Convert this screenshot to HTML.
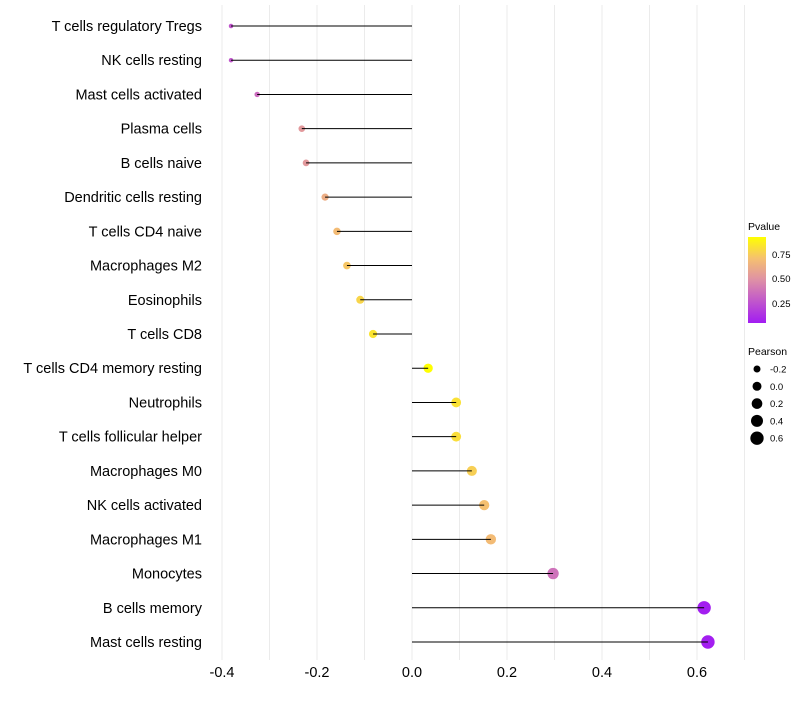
<!DOCTYPE html>
<html><head><meta charset="utf-8"><style>
body{margin:0;background:#fff;font-family:"Liberation Sans",sans-serif}
</style></head><body>
<svg id="c" width="800" height="700" xmlns="http://www.w3.org/2000/svg">
<defs><linearGradient id="g" x1="0" y1="1" x2="0" y2="0">
<stop offset="0" stop-color="#a21cf2"/><stop offset="0.5" stop-color="#de90a6"/><stop offset="0.75" stop-color="#f5c070"/><stop offset="1" stop-color="#ffff00"/></linearGradient></defs>
<g id="grid"></g><g id="dots"></g><g id="marks"></g><g id="labels"></g>
<g font-size="9.5" fill="#000">
<text x="748" y="230" font-size="10.5">Pvalue</text>
<rect x="748" y="237" width="18" height="86" fill="url(#g)"/>
<text x="772" y="258">0.75</text><text x="772" y="282">0.50</text><text x="772" y="307">0.25</text>
<text x="748" y="355" font-size="10.5">Pearson</text>
<g id="sizeleg"></g>
</g>
</svg>
<script>
const categories=["T cells regulatory  Tregs","NK cells resting","Mast cells activated","Plasma cells","B cells naive","Dendritic cells resting","T cells CD4 naive","Macrophages M2","Eosinophils","T cells CD8","T cells CD4 memory resting","Neutrophils","T cells follicular helper","Macrophages M0","NK cells activated","Macrophages M1","Monocytes","B cells memory","Mast cells resting"];
const pearson=[-0.381,-0.381,-0.326,-0.232,-0.223,-0.183,-0.158,-0.137,-0.109,-0.082,0.034,0.093,0.093,0.126,0.152,0.166,0.297,0.615,0.623];
const pvalue=[0.3,0.3,0.38,0.55,0.55,0.64,0.7,0.74,0.79,0.84,0.95,0.83,0.82,0.77,0.72,0.7,0.4,0.1,0.1];
const xTicks=[-0.4,-0.2,0.0,0.2,0.4,0.6];
const xTickLabels=["-0.4","-0.2","0.0","0.2","0.4","0.6"];
const sizeLegend=[-0.2,0.0,0.2,0.4,0.6];
const NS="http://www.w3.org/2000/svg";
const x=v=>412+v*475;
const y=i=>26+i*(616/18);
const r=v=>Math.sqrt(Math.max(3,12.25+(v+0.2)*40));
function col(p){const s=[[0,[162,28,242]],[0.5,[222,144,166]],[0.75,[245,192,112]],[1,[255,255,0]]];
 const t=(p-0.09)/(0.93-0.09);const tt=Math.max(0,Math.min(1,t));
 for(let k=1;k<s.length;k++){if(tt<=s[k][0]){const a=s[k-1],b=s[k],f=(tt-a[0])/(b[0]-a[0]);return "rgb("+a[1].map((c,j)=>Math.round(c+(b[1][j]-c)*f)).join(",")+")";}}return "rgb(255,255,0)";}
function el(t,a,p){const e=document.createElementNS(NS,t);for(const k in a)e.setAttribute(k,a[k]);p.appendChild(e);return e;}
const grid=document.getElementById('grid'),marks=document.getElementById('marks'),dots=document.getElementById('dots'),labels=document.getElementById('labels');
for(let v=-0.4;v<=0.751;v+=0.1){const l=el('line',{x1:x(v),x2:x(v),y1:5,y2:660,stroke:'#ebebeb','stroke-width':1},grid);

}
xTicks.forEach((v,i)=>{const t=el('text',{x:x(v),y:677,'text-anchor':'middle','font-size':14.5,fill:'#000'},labels);t.textContent=xTickLabels[i];

});
categories.forEach((c,i)=>{
const t=el('text',{x:202,y:y(i)+5,'text-anchor':'end','font-size':14.5,fill:'#000'},labels);t.textContent=c;


const l=el('line',{x1:x(0),x2:x(pearson[i]),y1:y(i),y2:y(i),stroke:'#000','stroke-width':1},marks);


const d=el('circle',{cx:x(pearson[i]),cy:y(i),r:r(pearson[i]),fill:col(pvalue[i])},dots);


});
const sl=document.getElementById('sizeleg');
sizeLegend.forEach((v,i)=>{const cy=369+i*17.3;
const d=el('circle',{cx:757,cy:cy,r:r(v),fill:'#000'},sl);


const t=el('text',{x:770,y:cy+3.5,'font-size':9.5},sl);t.textContent=v===0?"0.0":String(v);

});
</script>
</body></html>
